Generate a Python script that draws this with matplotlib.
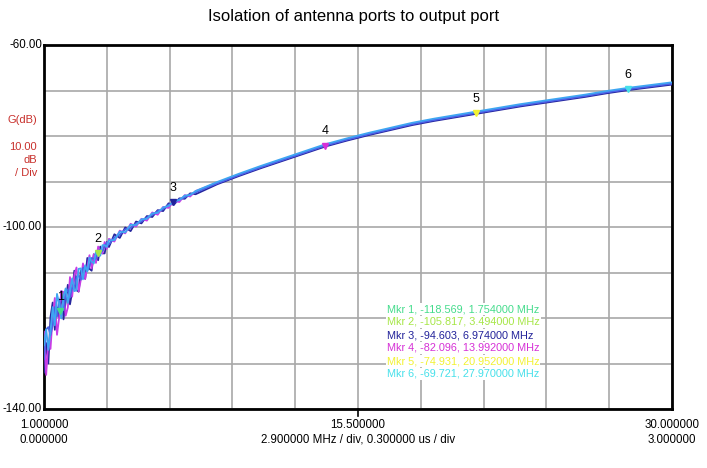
import matplotlib
matplotlib.use("Agg")
import matplotlib.pyplot as plt
from matplotlib.transforms import blended_transform_factory

plt.rcParams['font.family'] = ['Liberation Sans', 'DejaVu Sans']

title = "Isolation of antenna ports to output port"

freq = [1.0, 1.1, 1.2, 1.3, 1.4, 1.5, 1.6, 1.7, 1.8, 1.9, 2.0, 2.1, 2.2, 2.3, 2.4, 2.5,
        2.6, 2.7, 2.8, 2.9, 3.0, 3.1, 3.2, 3.3, 3.4, 3.5, 3.6, 3.7, 3.8, 3.9, 4.0,
        4.25, 4.5, 4.75, 5.0, 5.25, 5.5, 5.75, 6.0, 6.25, 6.5, 6.75, 7.0, 7.25, 7.5, 7.75, 8.0,
        9, 10, 11, 12, 13, 14, 15, 16, 17, 18, 19, 20, 21, 22, 23, 24, 25, 26, 27, 28, 29, 30]

trace_navy = [-132, -125.5, -130, -119.8, -116.6, -122.6, -117.7, -119.9, -114.1, -120.3, -116.5,
              -112.7, -117, -114.3, -109.6, -113.9, -114.2, -109.6, -110, -111.4, -106.8, -109.2,
              -109.6, -106, -106.4, -107.3, -104.3, -105.8, -105.8, -103.3, -104.4,
              -101.6, -102.4, -100.1, -100.9, -98.8, -99.2, -97.6, -97.8, -96.3, -96.5, -94.8,
              -95.1, -93.7, -93.8, -92.6, -92.8,
              -90.6, -88.8, -87.1, -85.5, -83.9, -82.3, -81.0, -79.8, -78.7, -77.6, -76.7, -75.9,
              -75.1, -74.3, -73.5, -72.8, -72.1, -71.4, -70.6, -69.9, -69.3, -68.7]

trace_magenta = [-123, -132.5, -125, -126.8, -119.6, -115.6, -123.7, -119.9, -114.1, -114.3, -119.5,
                 -117.7, -111, -115.3, -110.6, -108.9, -114.2, -111.6, -108, -111.4, -108.8, -106.2,
                 -109.1, -106, -107.9, -104.3, -105.3, -105.8, -103.3, -104.8, -102.6,
                 -103.2, -100.8, -101.4, -99.3, -99.9, -98.2, -98.6, -96.8, -97.3, -95.6, -95.8,
                 -94.3, -94.5, -93.0, -93.3, -92.1,
                 -90.3, -88.5, -86.8, -85.2, -83.6, -82.0, -80.7, -79.5, -78.4, -77.3, -76.4, -75.6,
                 -74.8, -74.0, -73.2, -72.5, -71.8, -71.1, -70.3, -69.6, -69.0, -68.4]

trace_light = [-126, -122.5, -127, -122.8, -117.6, -121.6, -114.7, -116.9, -120.1, -115.3, -113.5,
               -116.7, -114, -111.3, -114.1, -113.9, -109.2, -109.1, -111.5, -108.4, -109.8, -106.7,
               -107.6, -108, -105.4, -106.3, -106.3, -104, -104, -104.4, -102.9,
               -102.9, -101.0, -101.2, -99.5, -99.6, -98.3, -98.2, -97.0, -96.9, -95.7, -95.4,
               -94.3, -94.1, -93.1, -93.0, -92.1,
               -90.1, -88.3, -86.6, -85.0, -83.4, -81.8, -80.5, -79.3, -78.2, -77.1, -76.2, -75.4,
               -74.6, -73.8, -73.0, -72.3, -71.6, -70.9, -70.1, -69.4, -68.8, -68.2]

trace_blue = [-129, -122.5, -122, -123.8, -121.6, -117.6, -119.7, -115.9, -118.1, -118.3, -114.5,
              -113.7, -115.5, -113.3, -113.6, -110.9, -110.7, -111.6, -109, -108.9, -109.6, -108.7,
              -106.8, -107, -107, -105.3, -105, -105.3, -104.3, -103.4, -103.8,
              -102.3, -101.7, -100.5, -100.2, -99.2, -98.8, -97.9, -97.4, -96.5, -96.1, -95.1,
              -94.7, -93.9, -93.5, -92.8, -92.4,
              -90.4, -88.6, -86.9, -85.3, -83.7, -82.1, -80.8, -79.6, -78.5, -77.4, -76.5, -75.7,
              -74.9, -74.1, -73.3, -72.6, -71.9, -71.2, -70.4, -69.7, -69.1, -68.5]

mkr_ids = [1, 2, 3, 4, 5, 6]
mkr_freq = [1.754, 3.494, 6.974, 13.992, 20.952, 27.970]
mkr_val = [-118.569, -105.817, -94.603, -82.096, -74.931, -69.721]
mkr_colors = ['#44dc8c', '#a6e646', '#22229a', '#d630d6', '#f2f232', '#46e0ea']

fig = plt.figure(figsize=(7.07, 4.68), dpi=100)
ax = fig.add_axes([44/707, 1-409/468, 628/707, 364/468])
ax.set_xlim(1, 30)
ax.set_ylim(-140, -60)

xt = [1 + 2.9 * k for k in range(11)]
yt = [-140 + 10 * k for k in range(9)]
ax.set_xticks(xt)
ax.set_yticks(yt)
ax.tick_params(length=0, labelbottom=False, labelleft=False)
ax.grid(True, color='#a8a8a8', lw=1.2)
ax.set_axisbelow(True)
for s in ax.spines.values():
    s.set_linewidth(2)
    s.set_color('black')

ax.plot(freq, trace_navy, color='#26269e', lw=1.3, zorder=3)
ax.plot(freq, trace_magenta, color='#c83ce6', lw=1.3, zorder=3)
ax.plot(freq, trace_blue, color='#4a62e8', lw=1.3, zorder=3)
ax.plot(freq, trace_light, color='#3ea6f2', lw=1.3, zorder=3)

for i, f, v, c in zip(mkr_ids, mkr_freq, mkr_val, mkr_colors):
    ax.plot([f], [v], marker='v', color=c, ms=5, zorder=5, ls='none')
    ax.annotate(str(i), (f, v), xytext=(0, 6), textcoords='offset points',
                ha='center', va='bottom', fontsize=9, color='black', zorder=6)

legend_lines = [f"Mkr {i}, {v:.3f}, {f:.6f} MHz" for i, f, v in zip(mkr_ids, mkr_freq, mkr_val)]
for k, (txt, c) in enumerate(zip(legend_lines, mkr_colors)):
    fig.text(387/707, 1 - (309 + 13 * k) / 468, txt,
             fontsize=7.8, color=c, ha='left', va='center', zorder=7,
             bbox=dict(facecolor='white', edgecolor='none', pad=0.6))

# title
fig.text(0.5, 1 - 17/468, title, ha='center', va='center', fontsize=12)

# y labels
for v, s in [(-60, "-60.00"), (-100, "-100.00"), (-140, "-140.00")]:
    ax.text(-0.003, (v + 140) / 80, s, transform=ax.transAxes, ha='right', va='center', fontsize=8.3)
red = '#c8302c'
for yy, s in [(120, "G(dB)"), (147, "10.00"), (160, "dB"), (173, "/ Div")]:
    fig.text(37/707, 1 - yy/468, s, ha='right', va='center', fontsize=8, color=red)

# x labels
ax.plot([0.5, 0.5], [0, -0.02], transform=ax.transAxes, color='black', lw=1.2, clip_on=False)
bt = blended_transform_factory(ax.transAxes, fig.transFigure)
for xf, s1, s2 in [(0.0, "1.000000", "0.000000"), (0.5, "15.500000", ""), (1.0, "30.000000", "3.000000")]:
    ax.text(xf, 1 - 425/468, s1, transform=bt, ha='center', va='center', fontsize=8.3)
    if s2:
        ax.text(xf, 1 - 440/468, s2, transform=bt, ha='center', va='center', fontsize=8.3)
fig.text((44 + 314) / 707, 1 - 440/468, "2.900000 MHz / div, 0.300000 us / div",
         ha='center', va='center', fontsize=8.3)

fig.savefig("out.png", dpi=100)
